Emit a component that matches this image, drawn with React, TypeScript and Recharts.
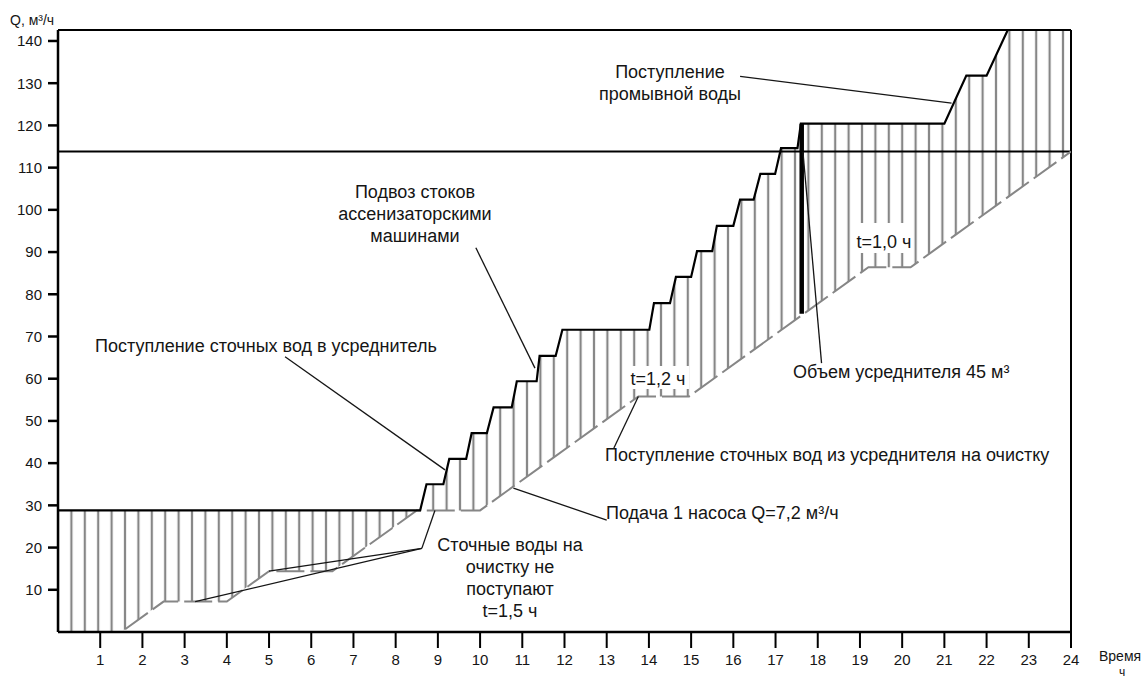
import {
  ComposedChart, Area, Line, XAxis, YAxis, ReferenceLine,
} from "recharts";

const W = 1142;
const H = 679;
const FONT = '"Liberation Sans", Arial, Helvetica, sans-serif';

// axes
const HOURS = [1, 2, 3, 4, 5, 6, 7, 8, 9, 10, 11, 12, 13, 14, 15, 16, 17, 18, 19, 20, 21, 22, 23, 24];
const Q_TICKS = [10, 20, 30, 40, 50, 60, 70, 80, 90, 100, 110, 120, 130, 140];
const Q_TOP = 142.6;

// cumulative inflow to the equalizer (stepped), [hour, m3]
const INFLOW: [number, number][] = [
  [0, 28.8], [8.58, 28.8], [8.73, 35.0], [9.13, 35.0], [9.27, 41.0], [9.67, 41.0],
  [9.8, 47.1], [10.16, 47.1], [10.32, 53.2], [10.75, 53.2], [10.87, 59.4], [11.34, 59.4],
  [11.41, 65.4], [11.79, 65.4], [11.95, 71.6], [14.01, 71.6], [14.12, 77.9], [14.5, 77.9],
  [14.64, 84.1], [15.0, 84.1], [15.14, 90.2], [15.5, 90.2], [15.61, 96.2], [16.0, 96.2],
  [16.16, 102.4], [16.48, 102.4], [16.64, 108.5], [16.99, 108.5], [17.13, 114.6], [17.52, 114.6],
  [17.6, 120.4], [21.0, 120.4], [21.52, 131.8], [22.0, 131.8], [22.66, 146], [24, 146],
];

// one pump, 7.2 m3/h, with idle periods
const PUMP: [number, number][] = [
  [0, 0], [1.5, 0], [2.5, 7.2], [4, 7.2], [5, 14.4], [6.5, 14.4], [8.5, 28.8], [10, 28.8],
  [13.75, 55.8], [14.95, 55.8], [19.2, 86.4], [20.2, 86.4], [24, 113.8],
];

const DAILY_TOTAL = 113.8;

// equalizer volume marker
const VOLUME_T = 17.62;
const VOLUME_BASE = 75.4;
const VOLUME = 45;

// leader lines, [[hour, m3], [hour, m3]]
const LEADERS: [number, number][][] = [
  [[5.38, 65.2], [9.17, 38.4]],
  [[9.9, 91.0], [11.3, 62.5]],
  [[16.16, 131.6], [21.17, 125.3]],
  [[17.65, 113.7], [18.09, 63.7]],
  [[13.17, 43.6], [13.75, 55.8]],
  [[13.0, 26.5], [10.79, 34.1]],
  [[8.62, 19.8], [3.25, 7.2]],
  [[8.62, 19.8], [5.0, 14.4]],
  [[8.62, 19.8], [8.93, 28.8]],
];

type Note = { lines: string[]; x: number; y: number; anchor?: "start" | "middle" };
const NOTES: Note[] = [
  { lines: ["Поступление сточных вод в усреднитель"], x: 95, y: 352 },
  { lines: ["Подвоз стоков", "ассенизаторскими", "машинами"], x: 415, y: 198, anchor: "middle" },
  { lines: ["Поступление", "промывной воды"], x: 670, y: 78, anchor: "middle" },
  { lines: ["Объем усреднителя 45 м³"], x: 793, y: 378 },
  { lines: ["Поступление сточных вод из усреднителя на очистку"], x: 605, y: 461 },
  { lines: ["Подача 1 насоса Q=7,2 м³/ч"], x: 606, y: 519 },
  { lines: ["Сточные воды на", "очистку не", "поступают", "t=1,5 ч"], x: 510, y: 551, anchor: "middle" },
];

// labels sitting on a white patch over the hatching
const BOXED = [
  { text: "t=1,2 ч", x: 658, y: 385, box: [627, 366, 62, 23] },
  { text: "t=1,0 ч", x: 884, y: 248, box: [855, 223, 57, 30] },
];

const toRows = (pts: [number, number][]) => pts.map(([t, q]) => ({ t, q }));
const inflowRows = toRows(INFLOW);
const pumpRows = toRows(PUMP);
const volumeRows = [{ t: VOLUME_T, q: VOLUME_BASE }, { t: VOLUME_T, q: VOLUME_BASE + VOLUME }];

const PLOT_LEFT = 58;
const HATCH_STEP = 13.4;
const GREY = "#868686";
const INK = "#151515";

export default function App() {
  return (
    <div style={{ position: "absolute", left: 0, top: 0, width: W, height: H, fontFamily: FONT, background: "#fff" }}>
      <ComposedChart width={W} height={H} margin={{ top: 30, right: 71, bottom: 0, left: 8 }}>
        <defs>
          <pattern id="hatch" patternUnits="userSpaceOnUse" x={PLOT_LEFT - HATCH_STEP / 2} y={0} width={HATCH_STEP} height={40}>
            <rect x={HATCH_STEP / 2 - 1.1} y={0} width={2.2} height={40} fill={GREY} />
          </pattern>
        </defs>
        <XAxis
          type="number" dataKey="t" domain={[0, 24]} ticks={HOURS} height={47}
          tickSize={16} tickMargin={6} allowDataOverflow
          axisLine={{ stroke: "#000", strokeWidth: 2.5 }}
          tickLine={{ stroke: "#000", strokeWidth: 2 }}
          tick={{ fill: INK, fontSize: 15, fontFamily: FONT }}
        />
        <YAxis
          type="number" dataKey="q" domain={[0, Q_TOP]} ticks={Q_TICKS} width={50}
          tickSize={10} tickMargin={6} allowDataOverflow
          axisLine={{ stroke: "#000", strokeWidth: 2.5 }}
          tickLine={{ stroke: "#000", strokeWidth: 2.5 }}
          tick={{ fill: INK, fontSize: 15, fontFamily: FONT }}
        />
        {/* hatch under inflow, then blank out everything under the pump line */}
        <Area data={inflowRows} dataKey="q" type="linear" fill="url(#hatch)" fillOpacity={1} stroke="none" isAnimationActive={false} />
        <Area data={pumpRows} dataKey="q" type="linear" fill="#fff" fillOpacity={1} stroke="none" isAnimationActive={false} />

        <ReferenceLine y={DAILY_TOTAL} stroke="#000" strokeWidth={2} />
        <ReferenceLine y={Q_TOP} stroke="#000" strokeWidth={2} />
        <ReferenceLine x={24} stroke="#000" strokeWidth={2} />

        <Line data={pumpRows} dataKey="q" type="linear" stroke={GREY} strokeWidth={2} strokeDasharray="28 6" dot={false} activeDot={false} isAnimationActive={false} />
        <Line data={inflowRows} dataKey="q" type="linear" stroke="#000" strokeWidth={2.2} dot={false} activeDot={false} isAnimationActive={false} />
        <Line data={volumeRows} dataKey="q" type="linear" stroke="#000" strokeWidth={4.5} dot={false} activeDot={false} isAnimationActive={false} />

        {LEADERS.map((seg, i) => (
          <ReferenceLine
            key={i}
            segment={[{ x: seg[0][0], y: seg[0][1] }, { x: seg[1][0], y: seg[1][1] }]}
            stroke={INK} strokeWidth={1.3}
          />
        ))}
      </ComposedChart>

      <svg width={W} height={H} style={{ position: "absolute", left: 0, top: 0, pointerEvents: "none" }}>
        <text x={10} y={25} fontSize={14} fill={INK} fontFamily={FONT}>Q, м³/ч</text>
        <text x={1099} y={661} fontSize={14} fill={INK} fontFamily={FONT}>Время</text>
        <text x={1119} y={676} fontSize={12} fill={INK} fontFamily={FONT}>ч</text>

        {BOXED.map((b) => (
          <g key={b.text}>
            <rect x={b.box[0]} y={b.box[1]} width={b.box[2]} height={b.box[3]} fill="#fff" />
            <text x={b.x} y={b.y} fontSize={18} textAnchor="middle" fill={INK} fontFamily={FONT}>{b.text}</text>
          </g>
        ))}

        {NOTES.map((n, i) => (
          <text key={i} x={n.x} y={n.y} fontSize={18} textAnchor={n.anchor ?? "start"} fill={INK} fontFamily={FONT}>
            {n.lines.map((ln, j) => (
              <tspan key={j} x={n.x} dy={j === 0 ? 0 : 22}>{ln}</tspan>
            ))}
          </text>
        ))}
      </svg>
    </div>
  );
}
